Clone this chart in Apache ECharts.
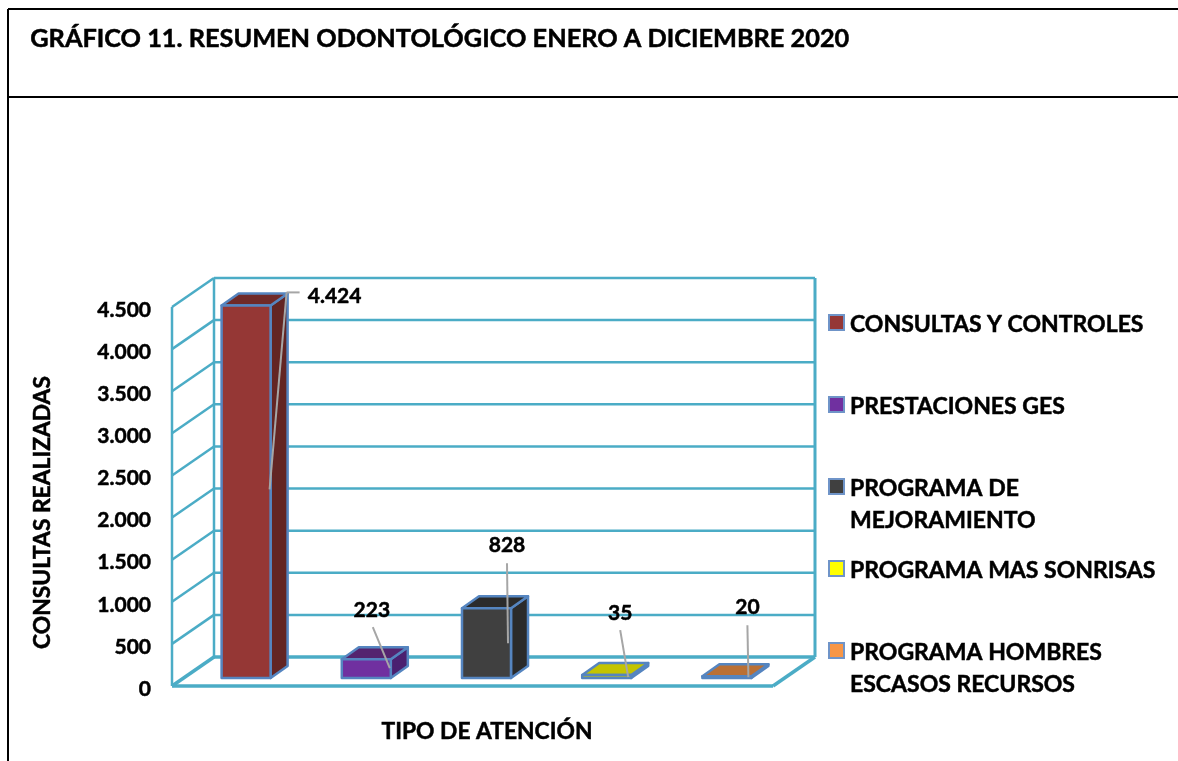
<!DOCTYPE html>
<html>
<head>
<meta charset="utf-8">
<title>Resumen odontológico</title>
<style>
  html, body { margin: 0; padding: 0; background: #fff; }
  #chart { width: 1178px; height: 761px; }
</style>
<script src="https://cdn.jsdelivr.net/npm/echarts@6/dist/echarts.min.js"></script>
</head>
<body>
<div id="chart"></div>
<script>
const categories = ['CONSULTAS Y CONTROLES', 'PRESTACIONES GES', 'PROGRAMA DE\nMEJORAMIENTO', 'PROGRAMA MAS SONRISAS', 'PROGRAMA HOMBRES\nESCASOS RECURSOS'];
const consultas = [4424, 223, 828, 35, 20];
const ticks = [0, 500, 1000, 1500, 2000, 2500, 3000, 3500, 4000, 4500];

const frontColors = ['#953735', '#7030A0', '#404040', '#C4C400', '#C0743A'];
const sideColors = ['#632523', '#4A2070', '#2B2B2B', '#8C8C00', '#8A5228'];
const topColors = ['#702A28', '#54246F', '#2B2B2B', '#C4C400', '#BA7035'];
const legendColors = ['#953735', '#7030A0', '#404040', '#FFFF00', '#F79646'];

// profundidad del "3D" en pixeles
const wallDx = 42, wallDy = -29;
const barDx = 14, barDy = -8;
const sideDx = 17, sideDy = -12;
const barWidth = 49;
// lineas guia, respecto a la esquina sup. izq. del frente de la barra
const leaders = [
  [{ x: 48, y: 184 }, { x: 65, y: -13 }, { x: 78, y: -13 }],
  [{ x: 48, y: 9 }, { x: 31, y: -32 }],
  [{ x: 46, y: 35 }, { x: 45, y: -45 }],
  [{ x: 46, y: 2 }, { x: 38, y: -45 }],
  [{ x: 46, y: 1 }, { x: 45, y: -51 }]
];
const labelPos = [
  { x: 113, y: -9 },
  { x: 30, y: -49 },
  { x: 45, y: -63 },
  { x: 38, y: -62 },
  { x: 45, y: -69 }
];

const axisColor = '#4BACC6';
const barStroke = '#5585C0';
const fontName = 'Lato, Carlito, "Noto Sans", sans-serif';
const textWeight = 0.5; // engrosa un poco el texto

function fmt(v) {
  return String(v).replace(/\B(?=(\d{3})+$)/g, '.');
}

function line(x1, y1, x2, y2, w, c) {
  return {
    type: 'line',
    shape: { x1, y1, x2, y2 },
    style: { stroke: c || axisColor, lineWidth: w || 2.5, fill: null }
  };
}

function renderWall(params, api) {
  const v = api.value(0);
  const p = api.coord([0, v]);
  const r = api.coord([categories.length - 1, v]);
  const size = api.size([1, 0]);
  const x0 = p[0] - size[0] / 2;
  const x1 = r[0] + size[0] / 2;
  const y = p[1];
  const w = v === 0 ? 3.5 : 2.5;
  const kids = [
    line(x0, y, x0 + wallDx, y + wallDy, w),
    line(x0 + wallDx, y + wallDy, x1 + wallDx, y + wallDy, w)
  ];
  if (v === 0) {
    const t = api.coord([0, ticks[ticks.length - 1]])[1];
    kids.push(line(x0, y, x1, y, 3.5));
    kids.push(line(x1, y, x1 + wallDx, y + wallDy, 3.5));
    kids.push(line(x0, y, x0, t, 2.5));
    kids.push(line(x0 + wallDx, y + wallDy, x0 + wallDx, t + wallDy, 2.5));
    kids.push(line(x1 + wallDx, y + wallDy, x1 + wallDx, t + wallDy, 3));
  }
  return { type: 'group', children: kids };
}

function poly(points, fill) {
  return {
    type: 'polygon',
    shape: { points },
    style: { fill, stroke: barStroke, lineWidth: 2.5, lineJoin: 'round' }
  };
}

function renderBar(params, api) {
  const i = api.value(0);
  const top = api.coord([i, api.value(1)]);
  const base = api.coord([i, 0]);
  const l = top[0] - barWidth / 2 + barDx;
  const r = l + barWidth;
  const t = top[1] + barDy;
  const b = base[1] + barDy;
  return {
    type: 'group',
    children: [
      poly([[r, t], [r + sideDx, t + sideDy], [r + sideDx, b + sideDy], [r, b]], sideColors[i]),
      poly([[l, t], [l + sideDx, t + sideDy], [r + sideDx, t + sideDy], [r, t]], topColors[i]),
      poly([[l, t], [r, t], [r, b], [l, b]], frontColors[i])
    ]
  };
}

function renderLabel(params, api) {
  const i = api.value(0);
  const top = api.coord([i, api.value(1)]);
  const l = top[0] - barWidth / 2 + barDx;
  const t = top[1] + barDy;
  const pts = leaders[i];
  const kids = [];
  for (let k = 0; k < pts.length - 1; k++) {
    kids.push(line(l + pts[k].x, t + pts[k].y, l + pts[k + 1].x, t + pts[k + 1].y, 2, '#A6A6A6'));
  }
  kids.push({
    type: 'text',
    style: {
      x: l + labelPos[i].x,
      y: t + labelPos[i].y,
      text: fmt(api.value(1)),
      fill: '#000',
      stroke: '#000',
      lineWidth: textWeight,
      font: 'bold 21px ' + fontName,
      align: 'center',
      verticalAlign: 'middle'
    }
  });
  return { type: 'group', children: kids };
}

// leyenda a mano, el texto de dos lineas lleva el cuadro en la primera
const legendItems = [];
categories.forEach((name, i) => {
  const y = 323 + i * 82;
  legendItems.push({
    type: 'rect',
    shape: { x: 829, y: y - 8, width: 15, height: 15 },
    style: { fill: legendColors[i], stroke: '#6F94C8', lineWidth: 2 }
  });
  legendItems.push({
    type: 'text',
    style: {
      x: 850,
      y: y - 14,
      text: name,
      fill: '#000',
      stroke: '#000',
      lineWidth: textWeight,
      font: 'bold 23px ' + fontName,
      lineHeight: 32,
      verticalAlign: 'top',
      align: 'left'
    }
  });
});

const axisNameStyle = {
  color: '#000',
  fontWeight: 'bold',
  fontSize: 22.8,
  fontFamily: fontName,
  textBorderColor: '#000',
  textBorderWidth: textWeight
};

const chart = echarts.init(document.getElementById('chart'));
chart.setOption({
  backgroundColor: '#fff',
  animation: false,
  textStyle: { fontFamily: fontName },
  grid: { left: 172, top: 307, width: 601, height: 379 },
  xAxis: {
    type: 'category',
    data: categories,
    name: 'TIPO DE ATENCIÓN',
    nameLocation: 'middle',
    nameGap: 34,
    nameTextStyle: Object.assign({ padding: [0, 0, 0, 29] }, axisNameStyle),
    axisLine: { show: false },
    axisTick: { show: false },
    axisLabel: { show: false }
  },
  yAxis: {
    type: 'value',
    min: 0,
    max: 4500,
    interval: 500,
    name: 'CONSULTAS REALIZADAS',
    nameLocation: 'middle',
    nameGap: 118,
    nameTextStyle: Object.assign({ padding: [0, 32, 0, 0] }, axisNameStyle),
    axisLine: { show: false },
    axisTick: { show: false },
    splitLine: { show: false },
    axisLabel: {
      margin: 21,
      formatter: v => '{v|' + fmt(v) + '}',
      rich: {
        v: {
          color: '#000',
          fontWeight: 'bold',
          fontSize: 21,
          fontFamily: fontName,
          textBorderColor: '#000',
          textBorderWidth: textWeight,
          padding: [6, 0, 0, 0]
        }
      }
    }
  },
  graphic: [
    { type: 'line', shape: { x1: 8, y1: 9, x2: 1178, y2: 9 }, style: { stroke: '#000', lineWidth: 2 } },
    { type: 'line', shape: { x1: 8, y1: 97, x2: 1178, y2: 97 }, style: { stroke: '#000', lineWidth: 2 } },
    { type: 'line', shape: { x1: 8, y1: 9, x2: 8, y2: 761 }, style: { stroke: '#000', lineWidth: 2 } },
    {
      type: 'text',
      left: 30,
      top: 26,
      style: { text: 'GRÁFICO 11. RESUMEN ODONTOLÓGICO ENERO A DICIEMBRE 2020', fill: '#000', stroke: '#000', lineWidth: textWeight, font: 'bold 25.3px ' + fontName }
    }
  ].concat(legendItems),
  series: [
    {
      type: 'custom',
      name: 'paredes',
      silent: true,
      z: 1,
      renderItem: renderWall,
      encode: { y: 0 },
      data: ticks.map(v => [v])
    },
    {
      type: 'custom',
      name: 'TIPO DE ATENCIÓN',
      z: 2,
      renderItem: renderBar,
      encode: { x: 0, y: 1 },
      data: consultas.map((v, i) => [i, v])
    },
    {
      type: 'custom',
      name: 'etiquetas',
      silent: true,
      z: 3,
      renderItem: renderLabel,
      encode: { x: 0, y: 1 },
      data: consultas.map((v, i) => [i, v])
    }
  ]
});
</script>
</body>
</html>
